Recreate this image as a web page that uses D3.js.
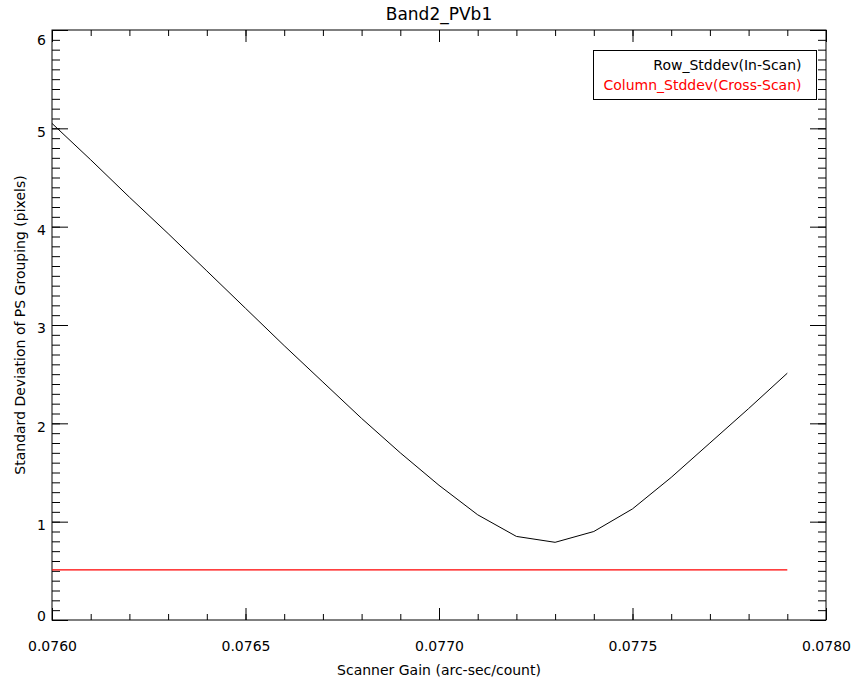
<!DOCTYPE html>
<html>
<head>
<meta charset="utf-8">
<script src="https://cdn.jsdelivr.net/npm/d3@7"></script>
<style>
  body { margin: 0; background: #fff; }
  text { font-family: "DejaVu Sans", sans-serif; }
</style>
</head>
<body>
<div id="chart"></div>
<script>
// scanner gain values (arc-sec/count)
var gains = [0.0760, 0.0761, 0.0762, 0.0763, 0.0764, 0.0765, 0.0766, 0.0767, 0.0768, 0.0769,
             0.0770, 0.0771, 0.0772, 0.0773, 0.0774, 0.0775, 0.0776, 0.0777, 0.0778, 0.0779];
var rowStd = [5.05, 4.68, 4.30, 3.93, 3.55, 3.17, 2.79, 2.42, 2.05, 1.70,
              1.37, 1.07, 0.85, 0.79, 0.90, 1.13, 1.45, 1.80, 2.15, 2.51];
var colStd = [0.51, 0.51, 0.51, 0.51, 0.51, 0.51, 0.51, 0.51, 0.51, 0.51,
              0.51, 0.51, 0.51, 0.51, 0.51, 0.51, 0.51, 0.51, 0.51, 0.51];
var xTicks = [0.0760, 0.0765, 0.0770, 0.0775, 0.0780];
var yTicks = [0, 1, 2, 3, 4, 5, 6];
var seriesNames = ["Row_Stddev(In-Scan)", "Column_Stddev(Cross-Scan)"];
var seriesColors = ["#000000", "#ff0000"];

drawChart();

function drawChart() {
    var W = 854, H = 688;
    var pl = 52, pr = 826, pt = 30, pb = 620;

    var svg = d3.select("#chart").append("svg")
        .attr("width", W)
        .attr("height", H);

    var x = d3.scaleLinear().domain([0.0760, 0.0780]).range([pl, pr]);
    var y = d3.scaleLinear().domain([0, 6]).range([pb, pt]);

    var xMinor = d3.range(0, 21).map(function(i) { return 0.0760 + i * 0.0001; });
    var yMinor = d3.range(0, 61).map(function(i) { return i * 0.1; });

    function clean(g) {
        g.select(".domain").remove();
        g.selectAll("line").attr("stroke", "#000").attr("stroke-width", 1);
    }

    // bottom axis
    svg.append("g").attr("transform", "translate(0," + pb + ")")
        .call(d3.axisBottom(x).tickValues(xMinor).tickSizeInner(-6).tickSizeOuter(0).tickFormat(""))
        .call(clean);
    var xb = svg.append("g").attr("transform", "translate(0," + pb + ")")
        .call(d3.axisBottom(x).tickValues(xTicks).tickSizeInner(-12).tickSizeOuter(0).tickFormat(d3.format(".4f")))
        .call(clean);
    xb.selectAll("text").attr("y", 31).attr("dy", 0)
        .attr("font-size", "14px").attr("fill", "#000");

    // top axis
    svg.append("g").attr("transform", "translate(0," + pt + ")")
        .call(d3.axisTop(x).tickValues(xMinor).tickSizeInner(-6).tickSizeOuter(0).tickFormat(""))
        .call(clean);
    svg.append("g").attr("transform", "translate(0," + pt + ")")
        .call(d3.axisTop(x).tickValues(xTicks).tickSizeInner(-12).tickSizeOuter(0).tickFormat(""))
        .call(clean);

    // left axis
    svg.append("g").attr("transform", "translate(" + pl + ",0)")
        .call(d3.axisLeft(y).tickValues(yMinor).tickSizeInner(-8).tickSizeOuter(0).tickFormat(""))
        .call(clean);
    var yl = svg.append("g").attr("transform", "translate(" + pl + ",0)")
        .call(d3.axisLeft(y).tickValues(yTicks).tickSizeInner(-16).tickSizeOuter(0).tickFormat(d3.format("d")))
        .call(clean);
    yl.selectAll("text").attr("x", -6)
        .attr("dy", function(d) { return d == 0 ? "0.05em" : (d == 6 ? "1.04em" : "0.57em"); })
        .attr("font-size", "14px").attr("fill", "#000");

    // right axis
    svg.append("g").attr("transform", "translate(" + pr + ",0)")
        .call(d3.axisRight(y).tickValues(yMinor).tickSizeInner(-8).tickSizeOuter(0).tickFormat(""))
        .call(clean);
    svg.append("g").attr("transform", "translate(" + pr + ",0)")
        .call(d3.axisRight(y).tickValues(yTicks).tickSizeInner(-16).tickSizeOuter(0).tickFormat(""))
        .call(clean);

    // frame
    svg.append("rect")
        .attr("x", pl).attr("y", pt)
        .attr("width", pr - pl).attr("height", pb - pt)
        .attr("fill", "none").attr("stroke", "#000").attr("stroke-width", 1);

    // lines
    var line = d3.line()
        .x(function(d, i) { return x(gains[i]); })
        .y(function(d) { return y(d); });

    svg.append("path").datum(rowStd)
        .attr("d", line)
        .attr("fill", "none").attr("stroke", seriesColors[0]).attr("stroke-width", 1);
    svg.append("path").datum(colStd)
        .attr("d", line)
        .attr("fill", "none").attr("stroke", seriesColors[1]).attr("stroke-width", 1.3);

    // title
    svg.append("text")
        .text("Band2_PVb1")
        .attr("x", (pl + pr) / 2).attr("y", 20)
        .attr("text-anchor", "middle")
        .attr("font-size", "17px").attr("fill", "#000");

    // axis titles
    svg.append("text")
        .text("Scanner Gain (arc-sec/count)")
        .attr("x", (pl + pr) / 2).attr("y", 675)
        .attr("text-anchor", "middle")
        .attr("font-size", "14px").attr("fill", "#000");

    svg.append("text")
        .text("Standard Deviation of PS Grouping (pixels)")
        .attr("transform", "translate(25," + ((pt + pb) / 2) + ") rotate(-90)")
        .attr("text-anchor", "middle")
        .attr("font-size", "14px").attr("fill", "#000");

    // legend
    svg.append("rect")
        .attr("x", 593.5).attr("y", 50.5)
        .attr("width", 223).attr("height", 49)
        .attr("fill", "#fff").attr("stroke", "#000").attr("stroke-width", 1);

    svg.selectAll(".legend")
        .data(seriesNames)
        .enter().append("text")
        .attr("class", "legend")
        .text(function(d) { return d; })
        .attr("x", 801.5)
        .attr("y", function(d, i) { return 70 + i * 20; })
        .attr("text-anchor", "end")
        .attr("font-size", "14px")
        .attr("fill", function(d, i) { return seriesColors[i]; });
}
</script>
</body>
</html>
